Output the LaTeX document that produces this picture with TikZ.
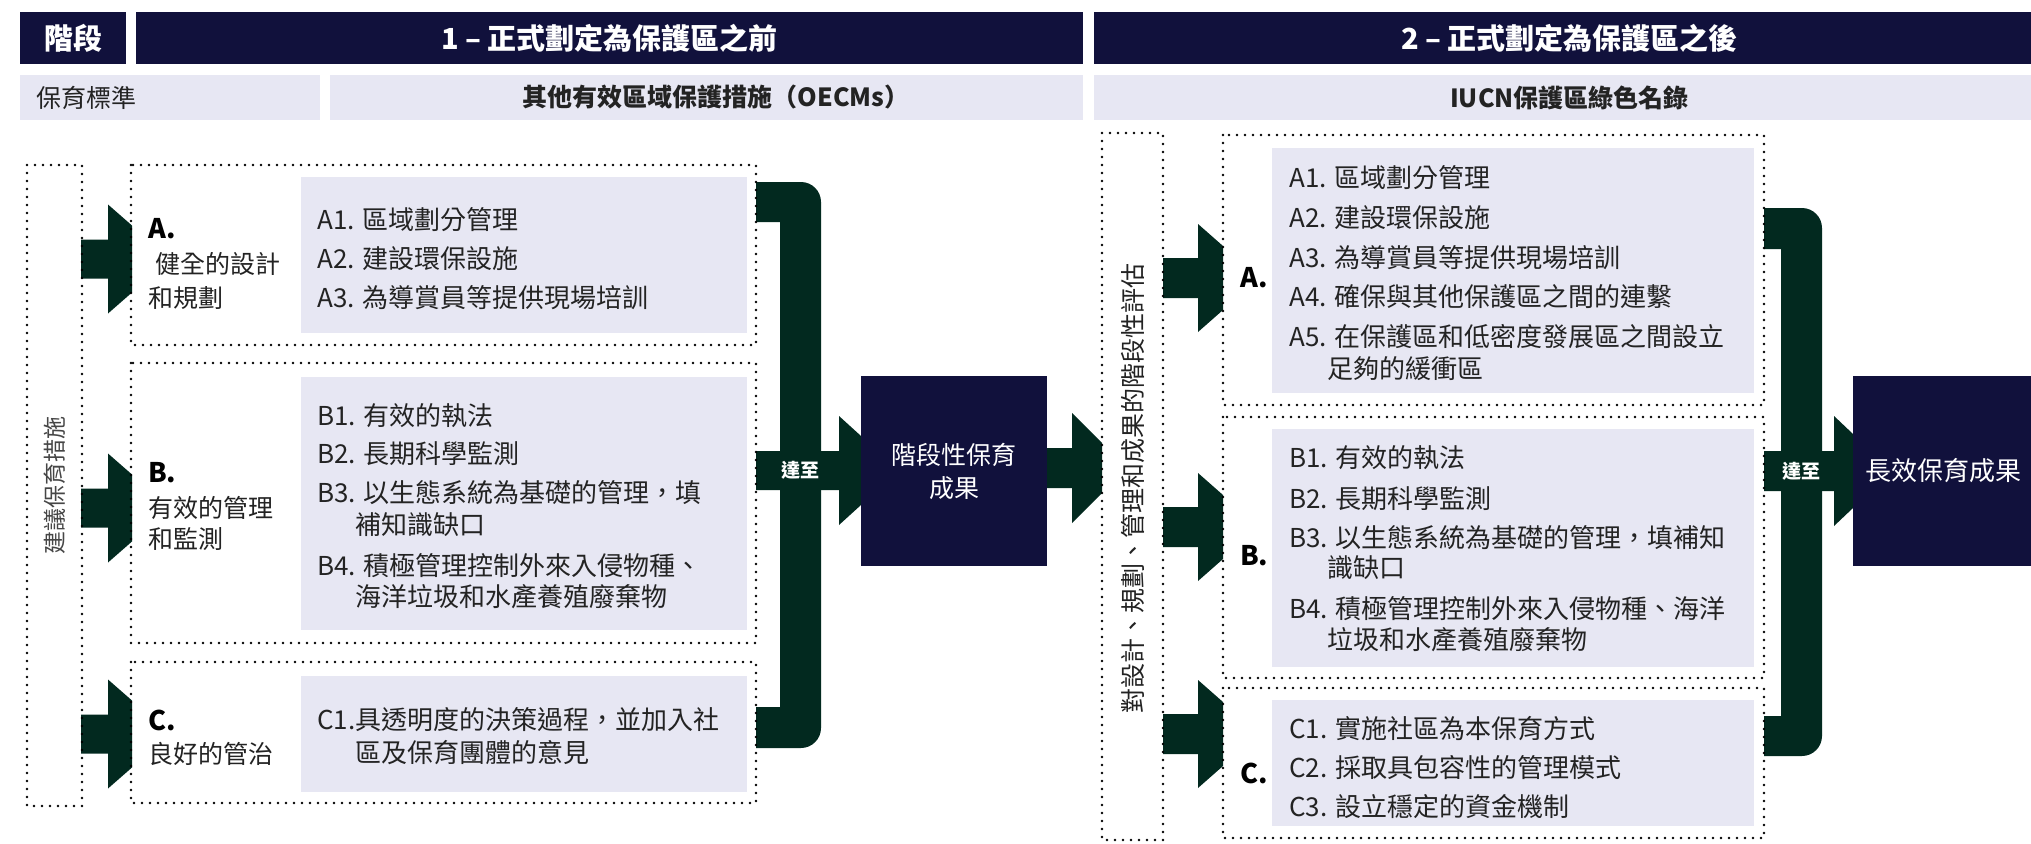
\documentclass[tikz,border=0pt]{standalone}
\usepackage{fontspec}
\setmainfont{Noto Sans CJK TC}
\usetikzlibrary{calc}
\definecolor{navy}{RGB}{17,17,60}
\definecolor{dkgreen}{RGB}{2,41,31}
\definecolor{lav}{RGB}{231,231,243}
\definecolor{txt}{RGB}{35,35,35}
\definecolor{gtxt}{RGB}{70,70,70}
\newcommand\garrow[7]{%
 \fill[dkgreen] (#1,#4-#5) -- (#2,#4-#5) -- (#2,#4-#6) -- (#3,#4-#7) -- (#3,#4+#7) -- (#2,#4+#6) -- (#2,#4+#5) -- (#1,#4+#5) -- cycle;}
\tikzset{
 hdr/.style={fill=navy, text=white, inner sep=0pt, font=\fontsize{29}{32}\selectfont\bfseries},
 subhdr/.style={fill=lav, text=txt, inner sep=0pt, font=\fontsize{25}{30}\selectfont\bfseries},
 itm/.style={anchor=base west, inner sep=0pt, font=\fontsize{26}{30}\selectfont, text=txt},
 lbl/.style={anchor=base west, inner sep=0pt, font=\fontsize{25}{30}\selectfont, text=txt},
 lblb/.style={anchor=base west, inner sep=0pt, font=\fontsize{27}{30}\selectfont\bfseries, text=black},
 dotbox/.style={draw=black, line width=2.8pt, dash pattern=on 0pt off 8pt, line cap=round},
 outbox/.style={fill=navy, text=white, inner sep=0pt, align=center},
 reach/.style={text=white, inner sep=0pt, font=\fontsize{19}{22}\selectfont\bfseries},
}
\begin{document}
\begin{tikzpicture}[x=1pt,y=-1pt]
\clip (0,0) rectangle (2031,843);
\fill[white] (0,0) rectangle (2031,843);
% header rows
\node[hdr, minimum width=106, minimum height=52] (hstage) at (73,38) {階段};
\node[hdr, minimum width=947, minimum height=52] (hp1) at (609.5,38) {1 – 正式劃定為保護區之前};
\node[hdr, minimum width=951, minimum height=52] (hp2) at (1569.5,38) {2 – 正式劃定為保護區之後};
\node[fill=lav, inner sep=0pt, minimum width=300, minimum height=45] (s0) at (170,97.5) {};
\node[anchor=west, inner sep=0pt, text=txt, font=\fontsize{25}{28}\selectfont] (s0t) at (36,97.5) {保育標準};
\node[fill=lav, inner sep=0pt, minimum width=753, minimum height=45] (s1) at (706.5,97.5) {};
\node[subhdr, fill=none] (s1t) at (716,97.5) {其他有效區域保護措施（OECMs）};
\node[subhdr, minimum width=951, minimum height=45] (s2) at (1569.5,97.5) {IUCN保護區綠色名錄};
% lavender panels
\fill[lav] (301,177) rectangle (747,333);
\fill[lav] (301,377) rectangle (747,630);
\fill[lav] (301,676) rectangle (747,792);
\fill[lav] (1272,148) rectangle (1754,393);
\fill[lav] (1272,429) rectangle (1754,667);
\fill[lav] (1272,700) rectangle (1754,826);
% green block arrows
\garrow{81}{108}{132}{259}{19.5}{54.5}{33.5}
\garrow{81}{108}{132}{508}{19.5}{54.5}{33.5}
\garrow{81}{108}{132}{734}{19.5}{54.5}{33.5}
\garrow{1163}{1198}{1223}{278}{20}{54}{32}
\garrow{1163}{1198}{1223}{527}{20}{54}{32}
\garrow{1163}{1198}{1223}{734}{20}{54}{32}
\garrow{1047}{1072}{1102}{468}{20}{55}{25}
\garrow{756}{839}{861}{470.5}{19.5}{54.5}{34.5}
\garrow{1764}{1834}{1853}{471}{20}{55}{37}
% brackets
\fill[dkgreen] (756,182) -- (801,182) .. controls (812,182) and (821,191) .. (821,202) -- (821,728) .. controls (821,739) and (812,748) .. (801,748) -- (756,748) -- (756,707) -- (780,707) -- (780,222) -- (756,222) -- cycle;
\fill[dkgreen] (1764,208) -- (1802,208) .. controls (1813,208) and (1822,217) .. (1822,228) -- (1822,736) .. controls (1822,747) and (1813,756) .. (1802,756) -- (1764,756) -- (1764,716) -- (1781,716) -- (1781,249) -- (1764,249) -- cycle;
% outcome boxes
\node[outbox, minimum width=186, minimum height=190, font=\fontsize{25}{33}\selectfont] (mid) at (954,471) {階段性保育\\成果};
\node[outbox, minimum width=180, minimum height=190, font=\fontsize{26}{30}\selectfont] (fin) at (1943,471) {長效保育成果};
\node[reach] (reach1) at (800.5,470.5) {達至};
\node[reach] (reach2) at (1801.5,471) {達至};
% dotted frames
\draw[dotbox] (27,165) rectangle (82,806);
\draw[dotbox] (131,165) rectangle (756,345);
\draw[dotbox] (131,363) rectangle (756,643);
\draw[dotbox] (131,662) rectangle (756,803);
\draw[dotbox] (1102,133) rectangle (1163,840);
\draw[dotbox] (1223,135) rectangle (1764,405);
\draw[dotbox] (1223,417) rectangle (1764,678);
\draw[dotbox] (1223,688) rectangle (1764,838);
% vertical texts
\node[rotate=90, inner sep=0pt, text=gtxt, font=\fontsize{23}{26}\selectfont] (lstrip) at (54.5,485.5) {建議保育措施};
\node[rotate=90, inner sep=0pt, text=txt, font=\fontsize{25}{28}\selectfont] (rstrip) at (1132.5,488) {對設計、規劃、管理和成果的階段性評估};
% left labels
\node[lblb] (lA) at (148,238) {A.};
\node[lbl] (lAt1) at (155,273) {健全的設計};
\node[lbl] (lAt2) at (148,307) {和規劃};
\node[lblb] (lB) at (148,482) {B.};
\node[lbl] (lBt1) at (148,517) {有效的管理};
\node[lbl] (lBt2) at (148,548) {和監測};
\node[lblb] (lC) at (148,730) {C.};
\node[lbl] (lCt1) at (148,763) {良好的管治};
% left items
\node[itm] (la1) at (317,229) {A1. 區域劃分管理};
\node[itm] (la2) at (317,268) {A2. 建設環保設施};
\node[itm] (la3) at (317,307) {A3. 為導賞員等提供現場培訓};
\node[itm] (lb1) at (317,425) {B1. 有效的執法};
\node[itm] (lb2) at (317,463) {B2. 長期科學監測};
\node[itm] (lb3) at (317,502) {B3. 以生態系統為基礎的管理，填};
\node[itm] (lb3c) at (355,534) {補知識缺口};
\node[itm] (lb4) at (317,575) {B4. 積極管理控制外來入侵物種、};
\node[itm] (lb4c) at (355,606) {海洋垃圾和水產養殖廢棄物};
\node[itm] (lc1) at (317,729) {C1.具透明度的決策過程，並加入社};
\node[itm] (lc1c) at (355,762) {區及保育團體的意見};
% right labels
\node[lblb] (rA) at (1240,287) {A.};
\node[lblb] (rB) at (1240,565) {B.};
\node[lblb] (rC) at (1240,783) {C.};
% right items
\node[itm] (ra1) at (1289,187) {A1. 區域劃分管理};
\node[itm] (ra2) at (1289,227) {A2. 建設環保設施};
\node[itm] (ra3) at (1289,267) {A3. 為導賞員等提供現場培訓};
\node[itm] (ra4) at (1289,306) {A4. 確保與其他保護區之間的連繫};
\node[itm] (ra5) at (1289,346) {A5. 在保護區和低密度發展區之間設立};
\node[itm] (ra5c) at (1327,378) {足夠的緩衝區};
\node[itm] (rb1) at (1289,467) {B1. 有效的執法};
\node[itm] (rb2) at (1289,508) {B2. 長期科學監測};
\node[itm] (rb3) at (1289,547) {B3. 以生態系統為基礎的管理，填補知};
\node[itm] (rb3c) at (1327,577) {識缺口};
\node[itm] (rb4) at (1289,618) {B4. 積極管理控制外來入侵物種、海洋};
\node[itm] (rb4c) at (1327,649) {垃圾和水產養殖廢棄物};
\node[itm] (rc1) at (1289,738) {C1. 實施社區為本保育方式};
\node[itm] (rc2) at (1289,777) {C2. 採取具包容性的管理模式};
\node[itm] (rc3) at (1289,816) {C3. 設立穩定的資金機制};
\end{tikzpicture}
\end{document}
